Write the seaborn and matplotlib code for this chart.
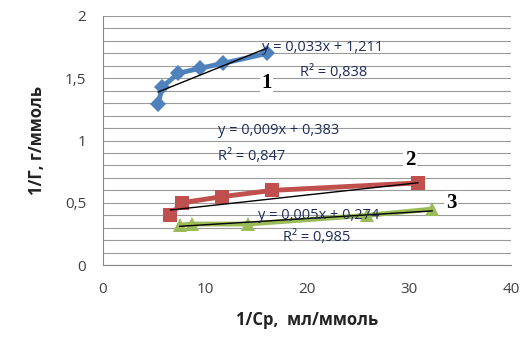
import numpy as np
import pandas as pd
import matplotlib
matplotlib.use('Agg')
import matplotlib.pyplot as plt
from matplotlib.ticker import MultipleLocator, FuncFormatter
import seaborn as sns

# данные
x1 = [5.4, 5.8, 7.4, 9.5, 11.8, 16.1]
y1 = [1.29, 1.43, 1.54, 1.58, 1.62, 1.70]
x2 = [6.6, 7.7, 11.7, 16.6, 30.9]
y2 = [0.40, 0.50, 0.55, 0.60, 0.66]
x3 = [7.5, 8.7, 14.2, 25.9, 32.3]
y3 = [0.32, 0.33, 0.33, 0.40, 0.45]

# коэффициенты линий тренда (k, b) и R^2
trend_k = [0.033, 0.009, 0.005]
trend_b = [1.211, 0.383, 0.274]
r2 = ['0,838', '0,847', '0,985']
series_names = ['1', '2', '3']

sns.set_style('white')
plt.rcParams['font.family'] = ['Open Sans', 'DejaVu Sans']

fig = plt.figure(figsize=(5.23, 3.54), dpi=100)
ax = fig.add_axes([0.197, 0.251, 0.78, 0.704])

colors = ['#4F81BD', '#C0504D', '#9BBB59']
markers = ['D', 's', '^']
msizes = [8, 10, 10]
xs = [x1, x2, x3]
ys = [y1, y2, y3]

for i in range(3):
    df = pd.DataFrame({'x': xs[i], 'y': ys[i]})
    sns.lineplot(data=df, x='x', y='y', ax=ax, color=colors[i], marker=markers[i],
                 markersize=msizes[i], markeredgewidth=0, linewidth=3.5, sort=False,
                 zorder=3)
    xt = np.array([min(xs[i]), max(xs[i])])
    ax.plot(xt, trend_k[i] * xt + trend_b[i], color='black', linewidth=1, zorder=4)

ax.set_xlim(0, 40)
ax.set_ylim(0, 2)
ax.xaxis.set_major_locator(MultipleLocator(10))
ax.yaxis.set_major_locator(MultipleLocator(0.5))
ax.yaxis.set_minor_locator(MultipleLocator(0.1))
fmt = FuncFormatter(lambda v, p: ('%g' % v).replace('.', ','))
ax.xaxis.set_major_formatter(fmt)
ax.yaxis.set_major_formatter(fmt)
ax.grid(True, which='both', axis='y', color='#9a9a9a', linewidth=0.8)
ax.set_axisbelow(True)
for s in ['top', 'right']:
    ax.spines[s].set_visible(False)
for s in ['left', 'bottom']:
    ax.spines[s].set_color('#888888')
ax.tick_params(axis='both', which='major', direction='out', length=5, color='#888888',
               labelsize=11, labelcolor='#404040', pad=7)
ax.tick_params(axis='y', which='minor', length=0)

ax.set_xlabel('1/Ср,  мл/ммоль', fontsize=12, fontweight='bold', color='#222222', labelpad=10)
ax.set_ylabel('1/Г, г/ммоль', fontsize=12, fontweight='bold', color='#222222', labelpad=14)

# подписи уравнений
eq_pos = [(15.6, 1.75), (11.3, 1.08), (15.2, 0.40)]
r2_pos = [(19.3, 1.55), (11.3, 0.87), (17.6, 0.22)]
num_pos = [(15.5, 1.46), (29.6, 0.84), (33.6, 0.50)]
for i in range(3):
    eq = 'y = %sx + %s' % (('%.3f' % trend_k[i]).replace('.', ','),
                           ('%.3f' % trend_b[i]).replace('.', ','))
    ax.text(*eq_pos[i], eq, fontsize=10.5, color='#1F2D5A', ha='left', va='center', zorder=5)
    ax.text(*r2_pos[i], 'R² = ' + r2[i], fontsize=10.5, color='#1F2D5A', ha='left',
            va='center', zorder=5)
    ax.text(*num_pos[i], series_names[i], fontsize=15, fontweight='bold', color='black',
            family='Liberation Serif', ha='left', va='center', zorder=5,
            bbox=dict(facecolor='white', edgecolor='none', pad=1))

fig.savefig('out.png', dpi=100)
